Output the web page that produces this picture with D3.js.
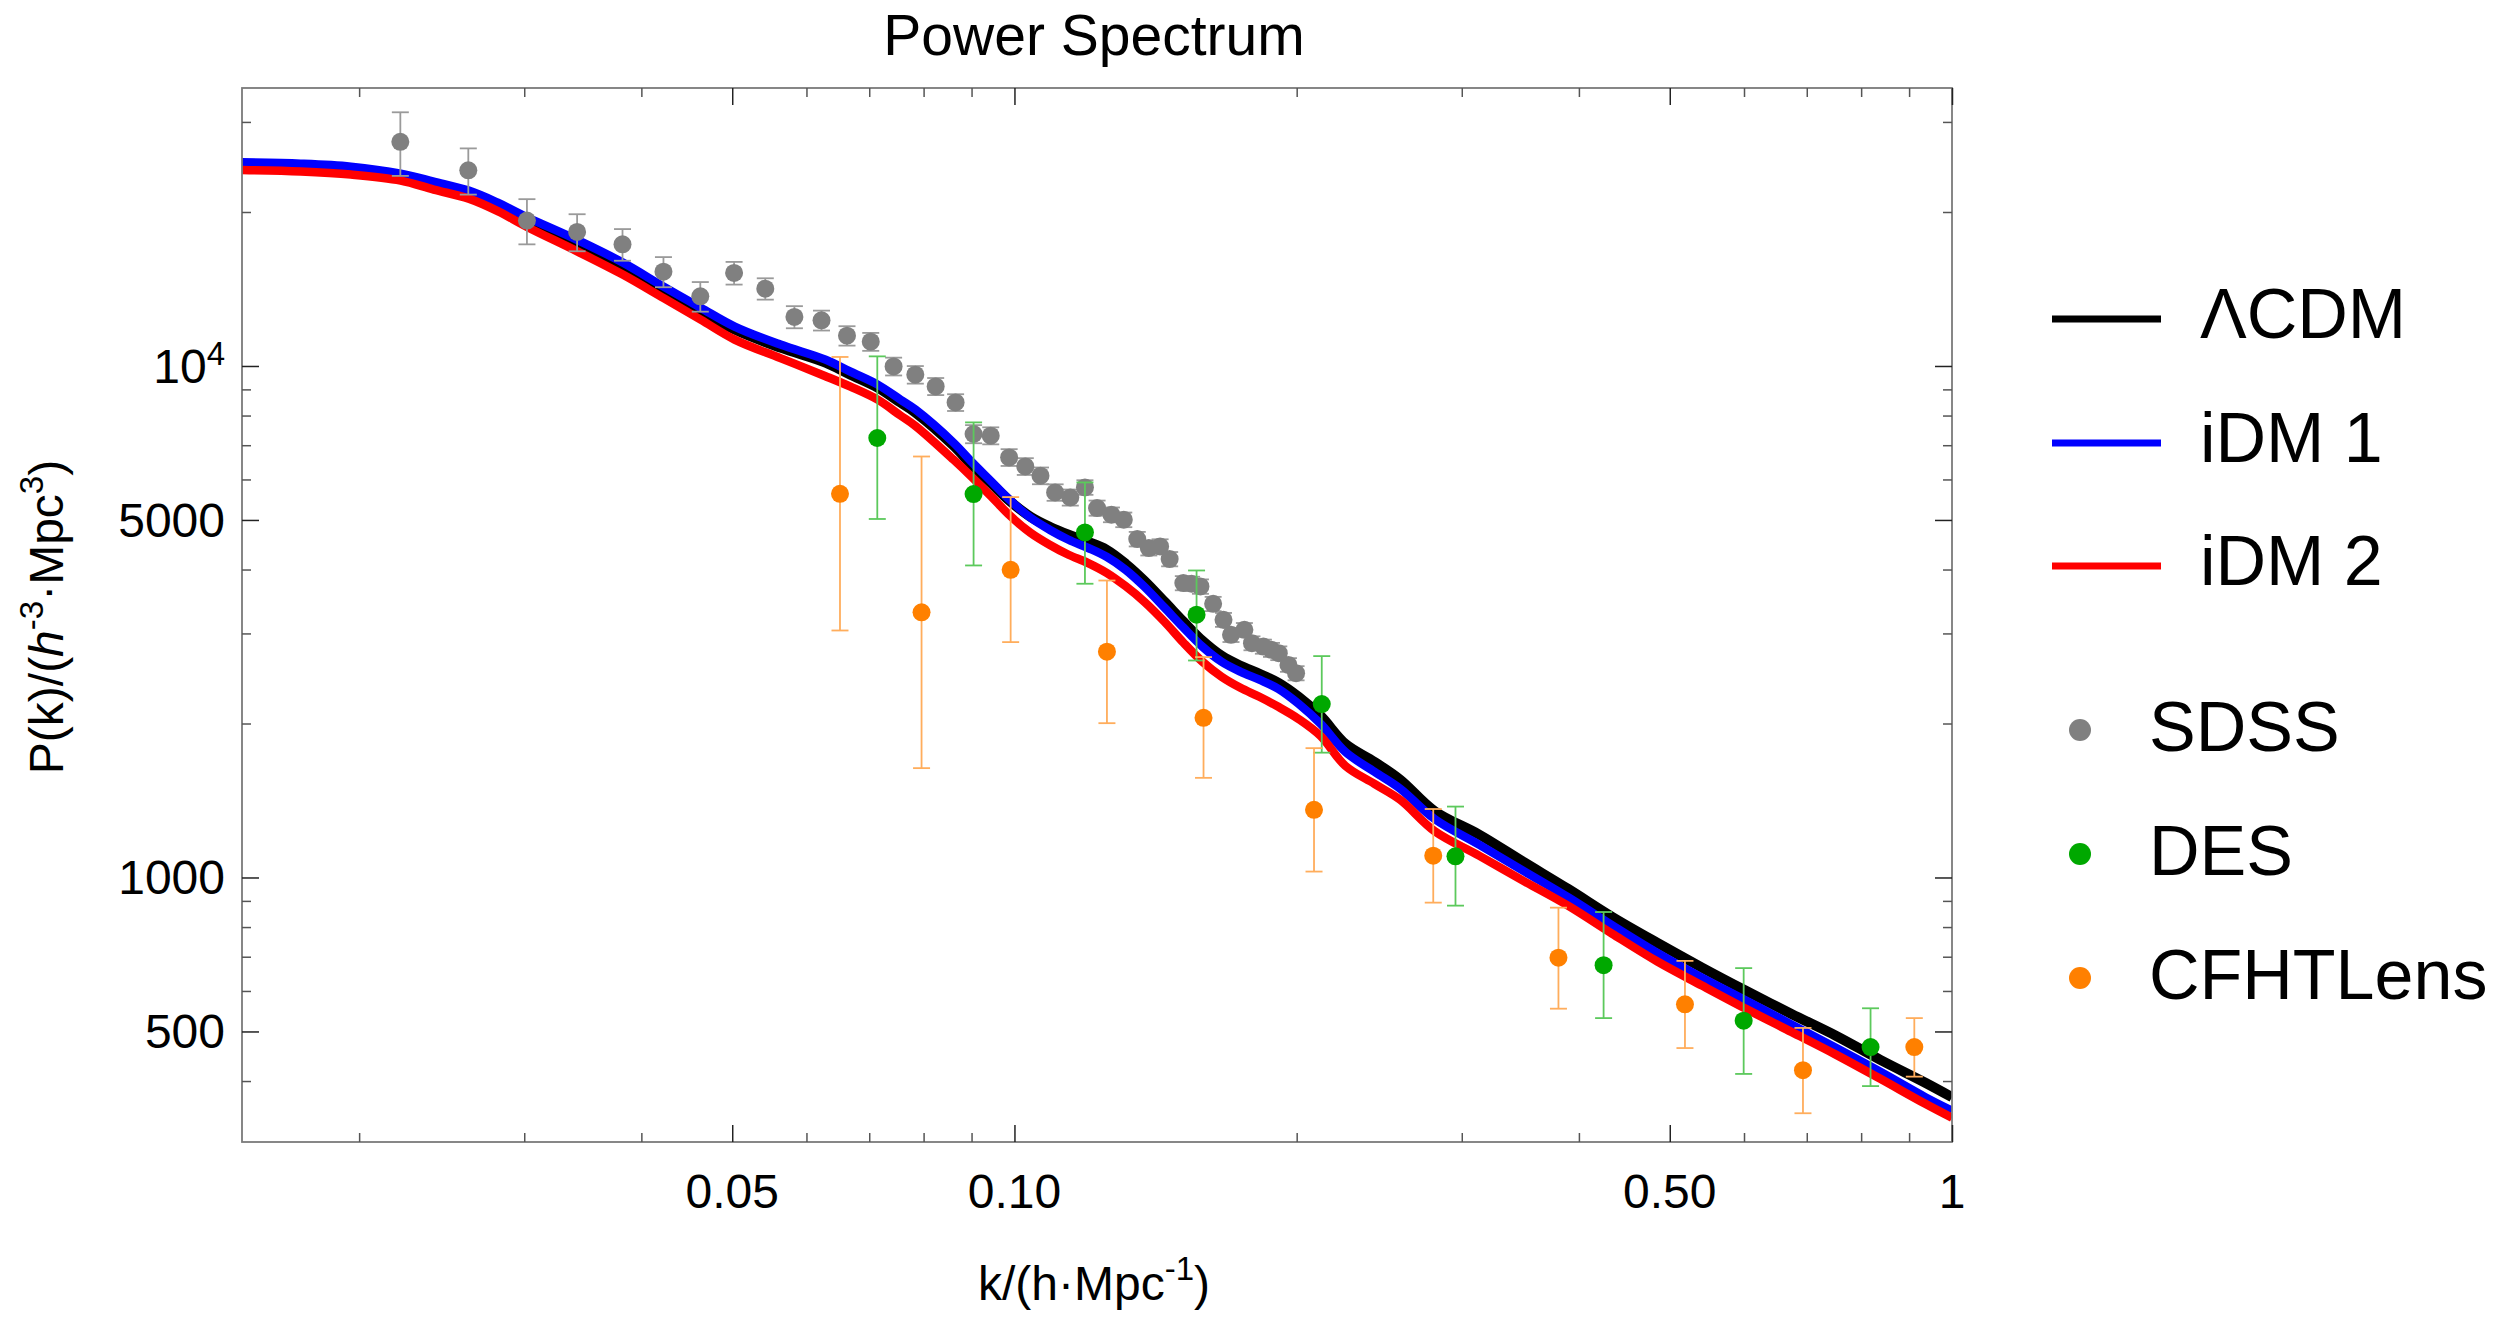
<!DOCTYPE html>
<html>
<head>
<meta charset="utf-8">
<script src="https://cdn.jsdelivr.net/npm/d3@7"></script>
<style>
  body { margin: 0; background: #fff; }
  svg { display: block; font-family: "Liberation Sans", Arial, sans-serif; }
</style>
</head>
<body>
<svg width="2494" height="1317"></svg>
<script>
// ---- model curves (k in h/Mpc, P in (Mpc/h)^3) ----
const kGrid = [0.015, 0.01733, 0.0196, 0.02215, 0.02402, 0.02618, 0.02811, 0.03018, 0.03413, 0.03821,
  0.04225, 0.04627, 0.0503, 0.05628, 0.06288, 0.06685, 0.07147, 0.07561, 0.07845, 0.08611,
  0.09022, 0.09453, 0.09905, 0.104, 0.109, 0.1142, 0.1197, 0.1254, 0.1314, 0.1376,
  0.1446, 0.1515, 0.1587, 0.1663, 0.1742, 0.1825, 0.1912, 0.2009, 0.2121, 0.2254,
  0.2421, 0.258, 0.2805, 0.3133, 0.349, 0.3898, 0.4342, 0.485, 0.5418, 0.6035,
  0.6741, 0.7527, 0.8386, 0.9365, 1.0];
const lcdmP = [24680, 24530, 24200, 23450, 22620, 21730, 20590, 19280, 17420, 15710,
  14100, 12830, 11780, 10860, 10150, 9616, 9070, 8477, 8103, 6984,
  6382, 5887, 5429, 5074, 4850, 4678, 4533, 4372, 4105, 3802,
  3459, 3161, 2902, 2713, 2594, 2502, 2402, 2256, 2070, 1825,
  1683, 1552, 1349, 1212, 1073, 949, 837, 745, 666, 600,
  541, 490, 440, 397, 372];
const idm1P = [25010, 24860, 24530, 23770, 22930, 22020, 20860, 19550, 17660, 15930,
  14290, 13000, 11940, 11010, 10290, 9747, 9193, 8592, 8213, 7079,
  6469, 5940, 5453, 5051, 4785, 4574, 4412, 4237, 3995, 3702,
  3367, 3077, 2825, 2641, 2525, 2436, 2338, 2186, 1997, 1760,
  1609, 1490, 1302, 1158, 1030, 914, 806, 712, 636, 574,
  516, 464, 417, 372, 350];
const idm2P = [24150, 23990, 23670, 23040, 22120, 21240, 20080, 18720, 16770, 15090,
  13570, 12320, 11260, 10360, 9551, 9110, 8592, 7997, 7628, 6557,
  6047, 5550, 5085, 4720, 4472, 4275, 4123, 3941, 3710, 3459,
  3161, 2876, 2641, 2469, 2349, 2256, 2156, 2042, 1891, 1653,
  1524, 1418, 1233, 1102, 985, 880, 776, 685, 614, 553,
  499, 450, 404, 361, 339];

// ---- data points ----
const sdssK = [0.02213, 0.02615, 0.0302, 0.03416, 0.03819, 0.04223, 0.04623, 0.05023, 0.05423, 0.05825,
  0.06226, 0.06628, 0.07026, 0.07432, 0.07839, 0.08241, 0.08654, 0.09045, 0.09434, 0.0987,
  0.1027, 0.1066, 0.1105, 0.1147, 0.1189, 0.1225, 0.1269, 0.1308, 0.1352, 0.1391,
  0.143, 0.1464, 0.1514, 0.1545, 0.1579, 0.1629, 0.1671, 0.1702, 0.1759, 0.1792,
  0.1843, 0.188, 0.1914, 0.196, 0.1997];
const sdssP = [27430, 24130, 19240, 18280, 17290, 15290, 13680, 15200, 14160, 12470,
  12280, 11460, 11155, 9982, 9616, 9122, 8486, 7362, 7307, 6626,
  6363, 6102, 5660, 5534, 5789, 5276, 5119, 5005, 4588, 4406,
  4438, 4193, 3763, 3752, 3706, 3427, 3190, 2981, 3049, 2871,
  2828, 2787, 2745, 2604, 2509];
const sdssErr = [3900, 2500, 1950, 1520, 1230, 1035, 910, 775, 680, 620,
  550, 500, 450, 400, 380, 350, 320, 300, 280, 250,
  240, 230, 210, 200, 190, 180, 170, 165, 150, 145,
  145, 135, 120, 120, 120, 110, 100, 95, 95, 90,
  90, 88, 85, 80, 80];

const desK = [0.0714, 0.09045, 0.1189, 0.1564, 0.2127, 0.2954, 0.425, 0.5995, 0.8187];
const desP = [7231, 5617, 4726, 3264, 2183, 1100, 674, 525, 466];
const desLo = [5022, 4074, 3752, 2656, 1754, 881, 531, 413, 391];
const desHi = [10442, 7757, 5921, 3983, 2709, 1376, 856, 665, 555];

const cfhtK = [0.06515, 0.0796, 0.09907, 0.1255, 0.1591, 0.2087, 0.2797, 0.3804, 0.519, 0.6935, 0.9116];
const cfhtP = [5625, 3300, 3995, 2763, 2052, 1356, 1103, 697, 565, 420, 466];
const cfhtLo = [3040, 1636, 2885, 2003, 1566, 1027, 893, 554, 464, 346, 408];
const cfhtHi = [10414, 6653, 5542, 3807, 2697, 1790, 1361, 873, 687, 508, 531];

// ---- ticks ----
const xMajor = [0.05, 0.1, 0.5, 1];
const xMajorLabels = ["0.05", "0.10", "0.50", "1"];
const xMinor = [0.02, 0.03, 0.04, 0.06, 0.07, 0.08, 0.09, 0.2, 0.3, 0.4, 0.6, 0.7, 0.8, 0.9];
const yMajor = [500, 1000, 5000, 10000];
const yMajorLabels = ["500", "1000", "5000", "10^4"];
const yMinor = [400, 600, 700, 800, 900, 2000, 3000, 4000, 6000, 7000, 8000, 9000, 20000, 30000];

const plot = {left: 242, right: 1952, top: 88, bottom: 1142};
const svg = d3.select("svg");

const x = d3.scaleLog().domain([0.015, 1]).range([plot.left, plot.right]);
const y = d3.scaleLog().domain([304, 34950]).range([plot.bottom, plot.top]);

svg.append("rect").attr("width", 2494).attr("height", 1317).attr("fill", "#fff");

// title
svg.append("text")
    .attr("x", 1094).attr("y", 55)
    .attr("text-anchor", "middle")
    .attr("font-size", 57)
    .text("Power Spectrum");

// clip for curves
svg.append("clipPath").attr("id", "clip")
    .append("rect")
    .attr("x", plot.left).attr("y", plot.top)
    .attr("width", plot.right - plot.left).attr("height", plot.bottom - plot.top);

const series = [
    {name: "ΛCDM", color: "#000000", values: lcdmP, width: 10},
    {name: "iDM 1", color: "#0000ff", values: idm1P, width: 8.5},
    {name: "iDM 2", color: "#ff0000", values: idm2P, width: 8.5}
];

const line = d3.line()
    .x(d => x(d[0]))
    .y(d => y(d[1]))
    .curve(d3.curveCatmullRom.alpha(0.5));

svg.append("g").attr("clip-path", "url(#clip)")
    .selectAll("path")
    .data(series)
    .join("path")
    .attr("d", s => line(kGrid.map((k, i) => [k, s.values[i]])))
    .attr("fill", "none")
    .attr("stroke", d => d.color)
    .attr("stroke-width", d => d.width)
    .attr("stroke-linejoin", "round");

// data sets with error bars
const datasets = [
    {name: "SDSS", color: "#808080", barColor: "#9a9a9a",
     pts: sdssK.map((k, i) => ({k, p: sdssP[i], lo: sdssP[i] - sdssErr[i], hi: sdssP[i] + sdssErr[i]}))},
    {name: "DES", color: "#00a800", barColor: "#5cc95c",
     pts: desK.map((k, i) => ({k, p: desP[i], lo: desLo[i], hi: desHi[i]}))},
    {name: "CFHTLens", color: "#ff8000", barColor: "#ffad5c",
     pts: cfhtK.map((k, i) => ({k, p: cfhtP[i], lo: cfhtLo[i], hi: cfhtHi[i]}))}
];

const capHalf = 8.5;
datasets.forEach(ds => {
    const g = svg.append("g");
    const bars = g.selectAll("g.bar").data(ds.pts).join("g").attr("class", "bar")
        .attr("stroke", ds.barColor).attr("stroke-width", 1.8);
    bars.append("line")
        .attr("x1", d => x(d.k)).attr("x2", d => x(d.k))
        .attr("y1", d => y(d.lo)).attr("y2", d => y(d.hi));
    bars.append("line")
        .attr("x1", d => x(d.k) - capHalf).attr("x2", d => x(d.k) + capHalf)
        .attr("y1", d => y(d.lo)).attr("y2", d => y(d.lo));
    bars.append("line")
        .attr("x1", d => x(d.k) - capHalf).attr("x2", d => x(d.k) + capHalf)
        .attr("y1", d => y(d.hi)).attr("y2", d => y(d.hi));
    g.selectAll("circle").data(ds.pts).join("circle")
        .attr("cx", d => x(d.k)).attr("cy", d => y(d.p))
        .attr("r", 9)
        .attr("fill", ds.color);
});

// frame
svg.append("rect")
    .attr("x", plot.left).attr("y", plot.top)
    .attr("width", plot.right - plot.left).attr("height", plot.bottom - plot.top)
    .attr("fill", "none").attr("stroke", "#7a7a7a").attr("stroke-width", 1.8);

// ticks on all four sides, pointing inward
function addTicks(axisFn, scale, values, len, tx, ty, color) {
    svg.append("g")
        .attr("transform", `translate(${tx},${ty})`)
        .call(axisFn(scale).tickValues(values).tickSize(-len).tickFormat(""))
        .call(g => g.select(".domain").remove())
        .call(g => g.selectAll("line").attr("stroke", color).attr("stroke-width", 1.5));
}
addTicks(d3.axisBottom, x, xMajor, 17, 0, plot.bottom, "#222");
addTicks(d3.axisBottom, x, xMinor, 9, 0, plot.bottom, "#555");
addTicks(d3.axisTop, x, xMajor, 17, 0, plot.top, "#222");
addTicks(d3.axisTop, x, xMinor, 9, 0, plot.top, "#555");
addTicks(d3.axisLeft, y, yMajor, 17, plot.left, 0, "#222");
addTicks(d3.axisLeft, y, yMinor, 9, plot.left, 0, "#555");
addTicks(d3.axisRight, y, yMajor, 17, plot.right, 0, "#222");
addTicks(d3.axisRight, y, yMinor, 9, plot.right, 0, "#555");

// tick labels
svg.append("g").selectAll("text")
    .data(xMajor)
    .join("text")
    .attr("x", d => x(d)).attr("y", 1208)
    .attr("text-anchor", "middle")
    .attr("font-size", 48)
    .text((d, i) => xMajorLabels[i]);

const yLabels = svg.append("g").selectAll("text")
    .data(yMajor)
    .join("text")
    .attr("x", 225).attr("y", d => y(d) + 17)
    .attr("text-anchor", "end")
    .attr("font-size", 48);
yLabels.each(function(d, i) {
    const t = d3.select(this);
    const lab = yMajorLabels[i];
    if (lab.includes("^")) {
        const [b, e] = lab.split("^");
        t.append("tspan").text(b);
        t.append("tspan").attr("dy", -18).attr("font-size", 33).text(e);
    } else {
        t.text(lab);
    }
});

// axis titles
const xt = svg.append("text")
    .attr("x", 1094).attr("y", 1300)
    .attr("text-anchor", "middle")
    .attr("font-size", 48);
xt.append("tspan").text("k/(h·Mpc");
xt.append("tspan").attr("dy", -20).attr("font-size", 33).text("-1");
xt.append("tspan").attr("dy", 20).text(")");

const yt = svg.append("text")
    .attr("transform", "translate(63,617) rotate(-90)")
    .attr("text-anchor", "middle")
    .attr("font-size", 48);
yt.append("tspan").text("P(k)/(");
yt.append("tspan").attr("font-style", "italic").text("h");
yt.append("tspan").attr("dy", -20).attr("font-size", 33).text("-3");
yt.append("tspan").attr("dy", 20).text("·Mpc");
yt.append("tspan").attr("dy", -20).attr("font-size", 33).text("3");
yt.append("tspan").attr("dy", 20).text(")");

// legend: lines
const legLineY = [319, 443, 566];
const legLines = svg.append("g").selectAll("g")
    .data(series)
    .join("g")
    .attr("transform", (d, i) => `translate(0,${legLineY[i]})`);
legLines.append("line")
    .attr("x1", 2052).attr("x2", 2161)
    .attr("stroke", d => d.color).attr("stroke-width", 7);
legLines.append("text")
    .attr("x", 2200).attr("y", 19)
    .attr("font-size", 70)
    .text(d => d.name);

// legend: points
const legDotY = [730, 854, 978];
const legDots = svg.append("g").selectAll("g")
    .data(datasets)
    .join("g")
    .attr("transform", (d, i) => `translate(0,${legDotY[i]})`);
legDots.append("circle")
    .attr("cx", 2080).attr("r", 11)
    .attr("fill", d => d.color);
legDots.append("text")
    .attr("x", 2149).attr("y", 21)
    .attr("font-size", 70)
    .text(d => d.name);
</script>
</body>
</html>
